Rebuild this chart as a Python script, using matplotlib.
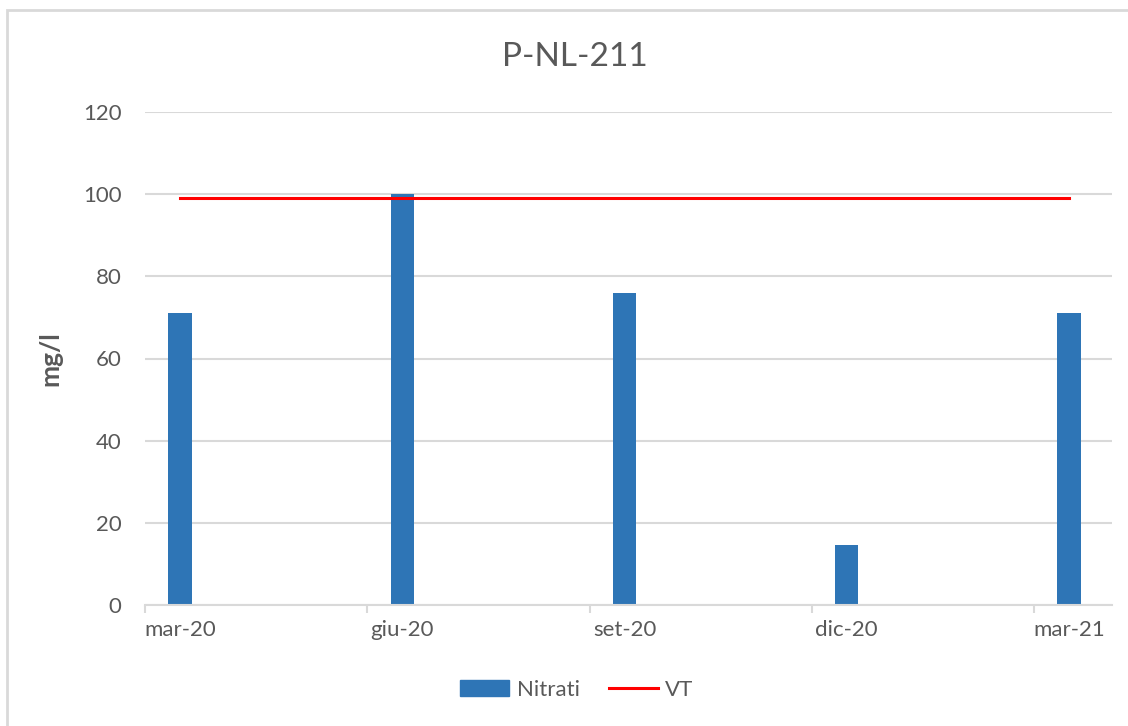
import matplotlib.pyplot as plt
import numpy as np
from matplotlib.lines import Line2D
from matplotlib.patches import Patch, Rectangle

# data
labels = ['mar-20', 'giu-20', 'set-20', 'dic-20', 'mar-21']
nitrati = [71, 100, 76, 14.5, 71]
vt = [99, 99, 99, 99, 99]

plt.rcParams['font.family'] = ['Lato', 'DejaVu Sans']
txt = '#595959'
grid = '#D9D9D9'

fig = plt.figure(figsize=(11.28, 7.26), dpi=100)
ax = fig.add_axes([145/1128, 1-605/726, (1112-145)/1128, (605-112)/726])

# bars sit a bit right of the period separators (date axis in the original)
offset = 0.157
xs = np.arange(len(labels)) + offset
ax.bar(xs, nitrati, width=0.105, color='#2E75B6', zorder=3)
ax.plot(xs, vt, color='#FF0000', lw=2.2, zorder=4)

ax.set_xlim(0, 4.35)
ax.set_ylim(0, 120)
ax.set_yticks(range(0, 121, 20))
ax.tick_params(axis='y', length=0, labelsize=16, labelcolor=txt, pad=17)
ax.yaxis.grid(True, color=grid, lw=1.5, zorder=0)

ax.set_xticks(xs)
ax.set_xticklabels(labels)
ax.set_xticks(np.arange(len(labels)), minor=True)
ax.tick_params(axis='x', which='major', length=0, labelsize=16, labelcolor=txt, pad=11)
ax.tick_params(axis='x', which='minor', length=6, width=1.5, color=grid)

for s in ['top', 'right', 'left']:
    ax.spines[s].set_visible(False)
ax.spines['bottom'].set_color(grid)
ax.spines['bottom'].set_linewidth(1.5)
ax.spines['bottom'].set_zorder(5)

ax.set_ylabel('mg/l', fontsize=19, color=txt, fontweight='bold')
ax.yaxis.set_label_coords((62-145)/(1112-145), 0.5)
fig.text(575/1128, 1-57/726, 'P-NL-211', ha='center', va='center', fontsize=24, color=txt)

handles = [Patch(color='#2E75B6'), Line2D([0], [0], color='#FF0000', lw=2.2)]
fig.legend(handles, ['Nitrati', 'VT'], loc='center', bbox_to_anchor=(577/1128, 1-690/726),
           ncol=2, frameon=False, fontsize=16, labelcolor=txt,
           handlelength=2.2, handleheight=0.7, columnspacing=1.3, handletextpad=0.35)

# outer chart border (left/top visible in the screenshot)
fig.patches.append(Rectangle((7/1128, -0.05), 1.2, 1-10/726 + 0.05, transform=fig.transFigure,
                             fill=False, edgecolor=grid, lw=2))

fig.savefig('out.png', dpi=100)
